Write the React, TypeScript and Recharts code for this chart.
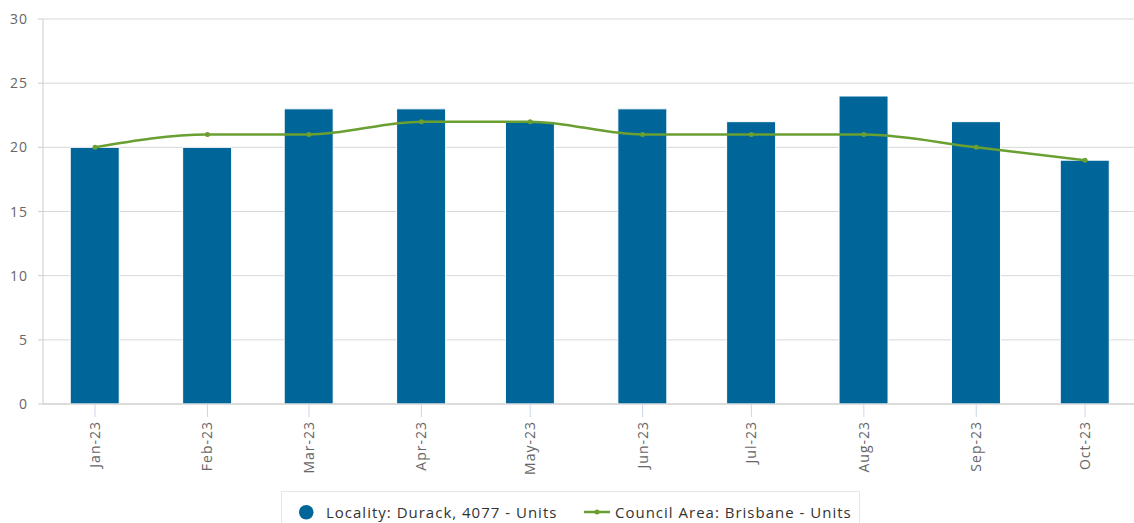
import React from 'react';
import { ComposedChart, Bar, Line, XAxis, YAxis, CartesianGrid } from 'recharts';

const monthDates = ['2023-01-01', '2023-02-01', '2023-03-01', '2023-04-01', '2023-05-01', '2023-06-01', '2023-07-01', '2023-08-01', '2023-09-01', '2023-10-01'];
const monthLabels = ['Jan-23', 'Feb-23', 'Mar-23', 'Apr-23', 'May-23', 'Jun-23', 'Jul-23', 'Aug-23', 'Sep-23', 'Oct-23'];
const localityUnits = [20, 20, 23, 23, 22, 23, 22, 24, 22, 19];
const councilUnits = [20, 21, 21, 22, 22, 21, 21, 21, 20, 19];
const yMajorTicks = [0, 5, 10, 15, 20, 25, 30];
const yMinorTicks = [0, 1, 2, 3, 4, 5, 6, 7, 8, 9, 10, 11, 12, 13, 14, 15, 16, 17, 18, 19, 20, 21, 22, 23, 24, 25, 26, 27, 28, 29, 30];
const localityName = 'Locality: Durack, 4077 - Units';
const councilName = 'Council Area: Brisbane - Units';

const DAY = 86400000;
const t0 = Date.parse(monthDates[0]);
const data = monthDates.map((d, i) => ({
  t: (Date.parse(d) - t0) / DAY,
  label: monthLabels[i],
  locality: localityUnits[i],
  council: councilUnits[i],
}));
const xTicks = data.map((d) => d.t);
const labelFor = (v: number) => {
  const found = data.find((d) => d.t === v);
  return found ? found.label : '';
};

const FONT = '"Open Sans", sans-serif';
const BLUE = '#006699';
const GREEN = '#6a9f32';

const XTick = (props: any) => {
  const { x, y, payload } = props;
  return (
    <g transform={`translate(${x},${y})`}>
      <text transform="rotate(-90)" x={-4} y={0} dy={5} textAnchor="end" fill="#666666" fontSize={14} fontFamily={FONT} letterSpacing={1}>
        {labelFor(payload.value)}
      </text>
    </g>
  );
};

const YTick = (props: any) => {
  const { x, y, payload } = props;
  return (
    <text x={x} y={y} dy={5} textAnchor="end" fill="#666666" fontSize={14} fontFamily={FONT} letterSpacing={1}>
      {payload.value}
    </text>
  );
};

export default function App() {
  return (
    <div style={{ position: 'absolute', left: 0, top: 0, width: 1134, height: 523, background: '#fff', fontFamily: FONT }}>
      <ComposedChart width={1134} height={523} data={data} margin={{ top: 19, right: 0, bottom: 0, left: 0 }}>
        <CartesianGrid vertical={false} stroke="#d8d8d8" />
        <YAxis
          yAxisId="minor"
          orientation="left"
          width={0}
          domain={[0, 30]}
          ticks={yMinorTicks}
          allowDataOverflow
          axisLine={false}
          tickLine={{ stroke: '#cccccc' }}
          tickSize={5}
          tickFormatter={() => ''}
          interval={0}
        />
        <YAxis
          yAxisId={0}
          orientation="left"
          width={43}
          domain={[0, 30]}
          ticks={yMajorTicks}
          axisLine={{ stroke: '#cccccc' }}
          tickLine={{ stroke: '#cccccc' }}
          tickSize={5}
          tickMargin={10}
          interval={0}
          tick={<YTick />}
        />
        <XAxis
          dataKey="t"
          type="number"
          domain={[-14.34, 286.5]}
          allowDataOverflow
          ticks={xTicks}
          interval={0}
          height={119}
          axisLine={{ stroke: '#cccccc' }}
          tickLine={{ stroke: '#ccd6eb' }}
          tickSize={13}
          tickMargin={0}
          tick={<XTick />}
        />
        <Bar dataKey="locality" yAxisId={0} fill={BLUE} stroke="#ffffff" strokeWidth={1} barSize={49} isAnimationActive={false} />
        <Line
          dataKey="council"
          yAxisId={0}
          type="monotone"
          stroke={GREEN}
          strokeWidth={2.5}
          dot={{ r: 2.5, fill: GREEN, stroke: GREEN, strokeWidth: 0 }}
          activeDot={false}
          isAnimationActive={false}
        />
      </ComposedChart>
      <div
        style={{
          position: 'absolute',
          left: 281,
          top: 491,
          width: 579,
          height: 40,
          border: '1px solid #e6e6e6',
          boxSizing: 'border-box',
          fontSize: 15,
          letterSpacing: 1,
          color: '#333333',
          fontFamily: FONT,
        }}
      >
        <svg width={14.5} height={14.5} style={{ position: 'absolute', left: 17, top: 13 }}>
          <circle cx={7.25} cy={7.25} r={7.25} fill={BLUE} />
        </svg>
        <span style={{ position: 'absolute', left: 44, top: 10, whiteSpace: 'nowrap', lineHeight: '20px' }}>{localityName}</span>
        <svg width={26} height={10} style={{ position: 'absolute', left: 302, top: 15 }}>
          <line x1={0} y1={5} x2={26} y2={5} stroke={GREEN} strokeWidth={2.5} />
          <circle cx={13} cy={5} r={2.5} fill={GREEN} />
        </svg>
        <span style={{ position: 'absolute', left: 333, top: 10, whiteSpace: 'nowrap', lineHeight: '20px' }}>{councilName}</span>
      </div>
    </div>
  );
}
